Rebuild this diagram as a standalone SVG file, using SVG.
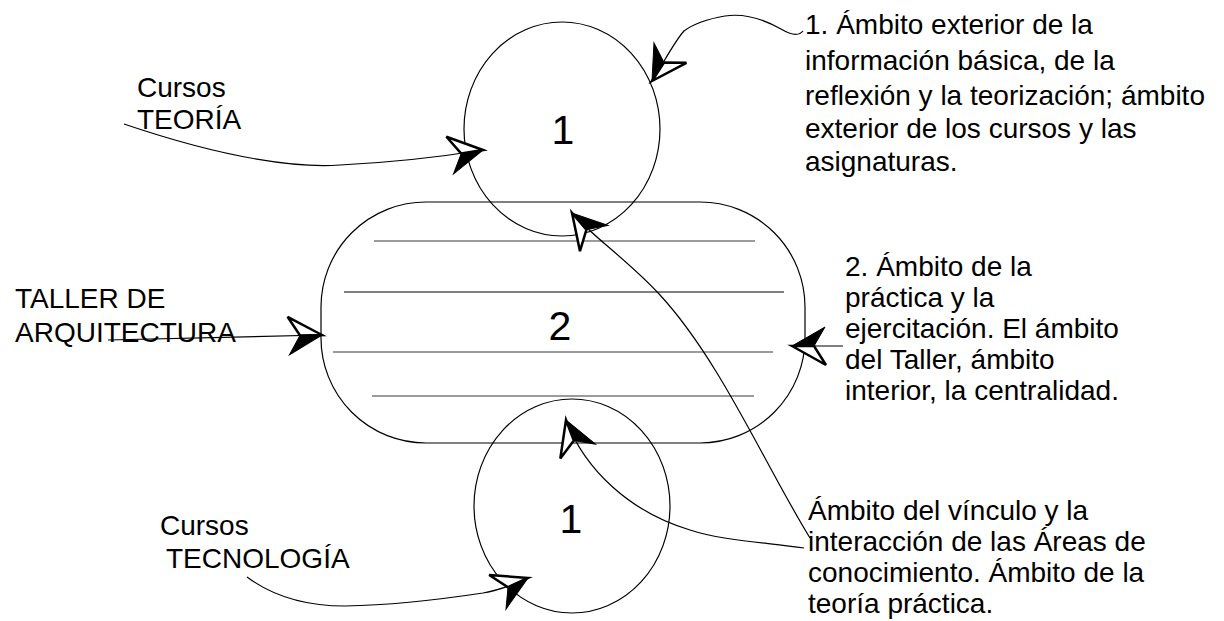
<svg xmlns="http://www.w3.org/2000/svg" width="1224" height="621" viewBox="0 0 1224 621">
<style>
.t{font-family:"Liberation Sans",Arial,sans-serif;font-size:28px;fill:#000}
.big{font-family:"Liberation Sans",Arial,sans-serif;font-size:41px;fill:#000;text-anchor:middle}
.shape{fill:none;stroke:#000;stroke-width:1.2}
.hl{stroke:#7a7a7a;stroke-width:1.6}
.conn{fill:none;stroke:#000;stroke-width:1.2}
</style>
<defs>
<marker id="ah" viewBox="-40 -25 50 50" refX="0" refY="0" markerWidth="50" markerHeight="50" markerUnits="userSpaceOnUse" orient="auto" overflow="visible">
<polygon points="0,0 -34,-19 -22,0" fill="#fff" stroke="#000" stroke-width="2.5" stroke-linejoin="miter"/>
<polygon points="0,0 -22,0 -33,19" fill="#000" stroke="#000" stroke-width="1"/>
</marker>
</defs>
<rect width="1224" height="621" fill="#fff"/>
<g id="node-taller">
<rect class="shape" x="321" y="202" width="484" height="241" rx="105" ry="105"/>
<line class="hl" x1="374" y1="241" x2="755" y2="241"/>
<line x1="344" y1="292" x2="784" y2="292" stroke="#000" stroke-width="1.2"/>
<line class="hl" x1="333" y1="352" x2="773" y2="352"/>
<line class="hl" x1="372" y1="396" x2="754" y2="396"/>
<text class="big" x="560" y="340">2</text>
</g>
<g id="node-teoria-circle">
<ellipse class="shape" cx="562" cy="129" rx="98" ry="107"/>
<text class="big" x="563" y="144">1</text>
</g>
<g id="node-tecnologia-circle">
<ellipse class="shape" cx="572" cy="506" rx="98" ry="107"/>
<text class="big" x="571" y="533">1</text>
</g>
<g id="connectors">
<path class="conn" marker-end="url(#ah)" d="M124,124 C230,160 300,168 340,165 C400,162 440,157 483,150"/>
<path class="conn" marker-end="url(#ah)" d="M803,31 C799,36 791,35 781,29 C765,20 745,13 725,16 C707,19 692,25 684,31 C674,42 663,64 652,81"/>
<path class="conn" marker-end="url(#ah)" d="M108,340 L322,335"/>
<path class="conn" marker-end="url(#ah)" d="M843,346 L792,346"/>
<path class="conn" marker-end="url(#ah)" d="M247,577 C270,594 300,606 345,606 C400,605 450,598 483,593 C500,590 515,584 528,578"/>
<path class="conn" marker-end="url(#ah)" d="M810,538 C765,465 720,360 660,295 C630,262 592,236 572,213"/>
<path class="conn" marker-end="url(#ah)" d="M804,548 C760,542 720,540 690,530 C630,512 585,470 566,420"/>
</g>
<g id="label-teoria">
<text class="t" x="137" y="97">Cursos</text>
<text class="t" x="137" y="129">TEORÍA</text>
</g>
<g id="label-taller">
<text class="t" x="15" y="308">TALLER DE</text>
<text class="t" x="15" y="342">ARQUITECTURA</text>
</g>
<g id="label-tecnologia">
<text class="t" x="160" y="535">Cursos</text>
<text class="t" x="166" y="568">TECNOLOGÍA</text>
</g>
<g id="note-1">
<text class="t" x="805" y="34">1. Ámbito exterior de la</text>
<text class="t" x="805" y="70">información básica, de la</text>
<text class="t" x="805" y="105">reflexión y la teorización; ámbito</text>
<text class="t" x="805" y="138">exterior de los cursos y las</text>
<text class="t" x="805" y="171">asignaturas.</text>
</g>
<g id="note-2">
<text class="t" x="845" y="276">2. Ámbito de la</text>
<text class="t" x="845" y="307">práctica y la</text>
<text class="t" x="845" y="338">ejercitación. El ámbito</text>
<text class="t" x="845" y="369">del Taller, ámbito</text>
<text class="t" x="845" y="400">interior, la centralidad.</text>
</g>
<g id="note-3">
<text class="t" x="808" y="520">Ámbito del vínculo y la</text>
<text class="t" x="808" y="551">interacción de las Áreas de</text>
<text class="t" x="808" y="582">conocimiento. Ámbito de la</text>
<text class="t" x="808" y="613">teoría práctica.</text>
</g>
</svg>
